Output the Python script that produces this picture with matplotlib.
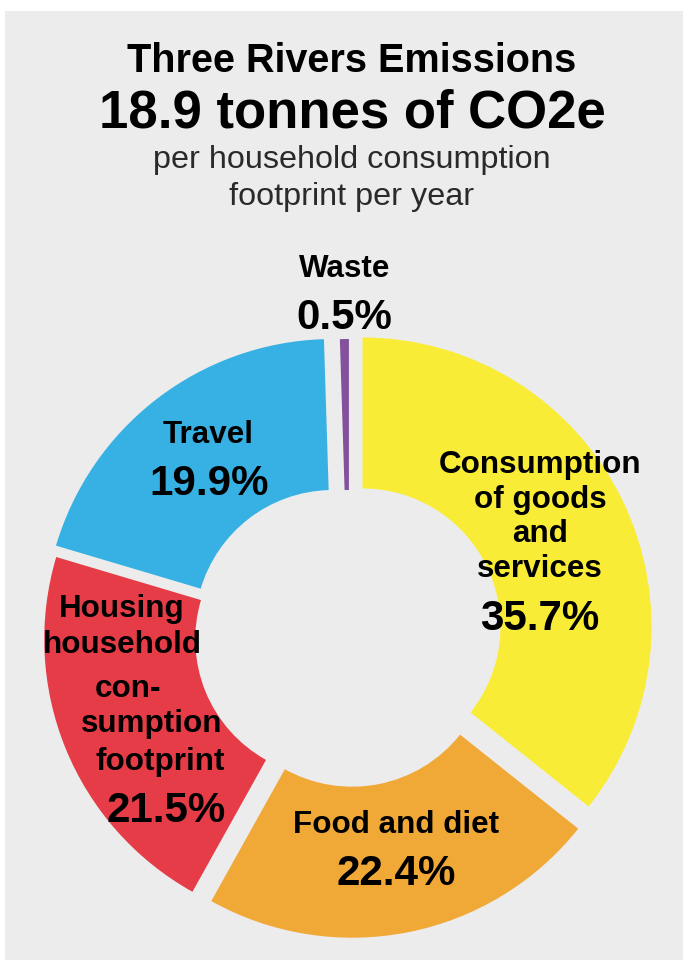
import matplotlib
matplotlib.use("Agg")
import matplotlib.pyplot as plt
from matplotlib.patches import Rectangle

plt.rcParams['font.family'] = ['Liberation Sans', 'DejaVu Sans']

# household footprint split, clockwise from 12 o'clock
categories = ['Consumption\nof goods\nand\nservices', 'Food and diet',
              'Housing\nhousehold\ncon-\nsumption\nfootprint', 'Travel', 'Waste']
shares = [35.7, 22.4, 21.5, 19.9, 0.5]
colors = ['#f9ec37', '#f0a836', '#e53c47', '#37b1e4', '#84529c']
# offsets in pixels (pie explode is in data units)
explode = [15, 16, 17, 0, 5]

W, H = 683, 960
fig = plt.figure(figsize=(W / 100, H / 100), dpi=100, facecolor='white')
ax = fig.add_axes([0, 0, 1, 1])

# work in pixel units, y pointing up
cx, cy = 349, H - 633
R, ring = 289, 151

ax.add_patch(Rectangle((5, 0), W - 5, H - 11, facecolor='#ececec', edgecolor='none', zorder=0))

wedges, _ = ax.pie(shares, colors=colors, startangle=90, counterclock=False,
                   radius=R, center=(cx, cy), explode=explode,
                   wedgeprops=dict(width=ring, linewidth=0))
for w in wedges:
    w.set_zorder(2)
# travel gets pushed sideways, away from waste, instead of outwards
wedges[3].set_center((cx - 16, cy + 5))

ax.set_xlim(0, W)
ax.set_ylim(0, H)
ax.set_aspect('equal')
ax.axis('off')

# header
ax.text(352, H - 72, 'Three Rivers Emissions', ha='center', va='baseline',
        fontsize=28.5, fontweight='bold', zorder=3)
ax.text(352, H - 128, '18.9 tonnes of CO2e', ha='center', va='baseline',
        fontsize=38, fontweight='bold', zorder=3)
ax.text(352, H - 168, 'per household consumption', ha='center', va='baseline',
        fontsize=23.3, color='#2a2a2a', zorder=3)
ax.text(352, H - 205, 'footprint per year', ha='center', va='baseline',
        fontsize=23.3, color='#2a2a2a', zorder=3)

lab_fs, pct_fs = 22.6, 30.3

def put(x, y, s, fs):
    ax.text(x, H - y, s, ha='center', va='baseline', fontsize=fs,
            fontweight='bold', zorder=4)

# consumption
for s, y in zip(categories[0].split('\n'), [473, 508, 542, 577]):
    put(540, y, s, lab_fs)
put(540, 630, f'{shares[0]}%', pct_fs)

# food
put(396, 833, categories[1], lab_fs)
put(396, 885, f'{shares[1]}%', pct_fs)

# housing, lines stepped to follow the ring
for s, x, y in zip(categories[2].split('\n'), [122, 122, 128, 152, 160],
                   [617, 653, 697, 732, 770]):
    put(x, y, s, lab_fs)
put(166, 822, f'{shares[2]}%', pct_fs)

# travel
put(208, 443, categories[3], lab_fs)
put(209, 495, f'{shares[3]}%', pct_fs)

# waste sits above the ring
put(345, 277, categories[4], lab_fs)
put(344, 329, f'{shares[4]}%', pct_fs)

fig.savefig('out.png', dpi=100, facecolor=fig.get_facecolor())
